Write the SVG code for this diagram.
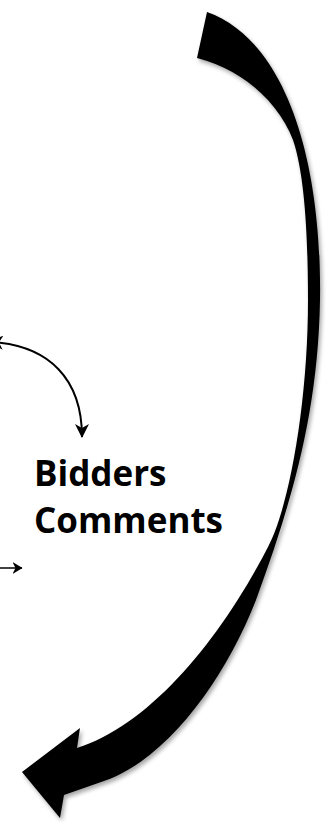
<svg xmlns="http://www.w3.org/2000/svg" width="328" height="822" viewBox="0 0 328 822">
<style>
.lbl{font-family:"Open Sans","Liberation Sans",sans-serif;font-weight:bold;font-size:35px;fill:#000}
.thin{fill:none;stroke:#000;stroke-width:2}
.thin2{fill:none;stroke:#000;stroke-width:1.5}
</style>
<defs>
<filter id="sh" x="-20%" y="-10%" width="140%" height="120%">
<feDropShadow dx="2" dy="3" stdDeviation="2" flood-color="#000" flood-opacity="0.35"/>
</filter>
<marker id="ah" viewBox="0 0 14 14" refX="13" refY="7" markerWidth="14" markerHeight="14" markerUnits="userSpaceOnUse" orient="auto-start-reverse">
<path d="M0,0 L14,7 L0,14 L4,7 z" fill="#000"/>
</marker>
<marker id="ah2" viewBox="0 0 10 12" refX="9.5" refY="6" markerWidth="10" markerHeight="12" markerUnits="userSpaceOnUse" orient="auto">
<path d="M0,0 L10,6 L0,12 L3,6 z" fill="#000"/>
</marker>
</defs>
<rect width="328" height="822" fill="#fff"/>
<g id="connectors">
<path id="big-arrow" filter="url(#sh)" fill="#000" d="M207,12 C286,40 322,160 320,300 C318,420 288,512 256,600 C225,680 166,760 104,781 L64,795 L60,818 L22,772 L80,728 L77,748 C150,725 220,640 268,547 C290,505 308,400 308,300 C308,240 305,175 293,140 C280,105 245,70 197,58 Z"/>
<path class="thin" d="M-10,342 C50,345 82,380 82,437" marker-start="url(#ah)" marker-end="url(#ah)"/>
<path class="thin2" d="M-2,568 L22,568" marker-end="url(#ah2)"/>
</g>
<g id="bidders-comments">
<text class="lbl" x="34" y="486">Bidders</text>
<text class="lbl" x="34" y="533">Comments</text>
</g>
</svg>
